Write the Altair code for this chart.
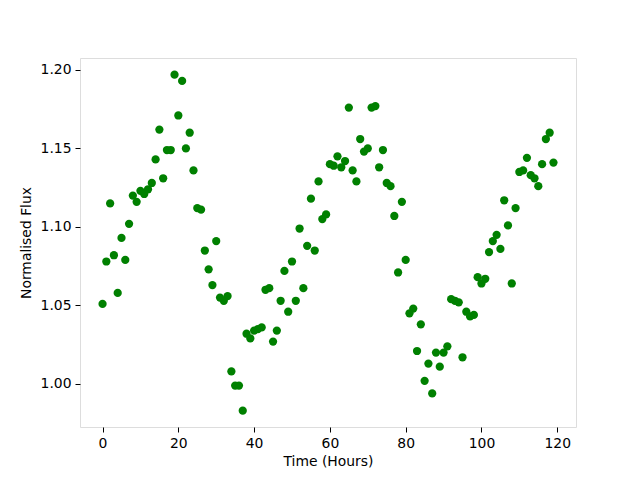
import altair as alt
import pandas as pd

hours = list(range(120))
flux = [
    1.051, 1.078, 1.115, 1.082, 1.058, 1.093, 1.079, 1.102, 1.120, 1.116,
    1.123, 1.121, 1.124, 1.128, 1.143, 1.162, 1.131, 1.149, 1.149, 1.197,
    1.171, 1.193, 1.150, 1.160, 1.136, 1.112, 1.111, 1.085, 1.073, 1.063,
    1.091, 1.055, 1.053, 1.056, 1.008, 0.999, 0.999, 0.983, 1.032, 1.029,
    1.034, 1.035, 1.036, 1.060, 1.061, 1.027, 1.034, 1.053, 1.072, 1.046,
    1.078, 1.053, 1.099, 1.061, 1.088, 1.118, 1.085, 1.129, 1.105, 1.108,
    1.140, 1.139, 1.145, 1.138, 1.142, 1.176, 1.136, 1.129, 1.156, 1.148,
    1.150, 1.176, 1.177, 1.138, 1.149, 1.128, 1.126, 1.107, 1.071, 1.116,
    1.079, 1.045, 1.048, 1.021, 1.038, 1.002, 1.013, 0.994, 1.020, 1.011,
    1.020, 1.024, 1.054, 1.053, 1.052, 1.017, 1.046, 1.043, 1.044, 1.068,
    1.064, 1.067, 1.084, 1.091, 1.095, 1.086, 1.117, 1.101, 1.064, 1.112,
    1.135, 1.136, 1.144, 1.133, 1.131, 1.126, 1.140, 1.156, 1.160, 1.141,
]
x_ticks = [0, 20, 40, 60, 80, 100, 120]
y_ticks = [1.00, 1.05, 1.10, 1.15, 1.20]

df = pd.DataFrame({"t": hours, "flux": flux})

font = "DejaVu Sans"
fs = 13.9

chart = (
    alt.Chart(df)
    .mark_circle(size=68, color="#008000", opacity=1)
    .encode(
        x=alt.X(
            "t:Q",
            scale=alt.Scale(domain=[-5.95, 124.95], nice=False, zero=False),
            axis=alt.Axis(
                values=x_ticks, title="Time (Hours)", format="d",
                grid=False, tickSize=5, labelPadding=4, titlePadding=5,
                domain=False, tickColor="black", labelColor="black",
                labelFont=font, titleFont=font, labelFontSize=fs, titleFontSize=fs,
                titleFontWeight="normal", titleColor="black", labelFlush=False,
            ),
        ),
        y=alt.Y(
            "flux:Q",
            scale=alt.Scale(domain=[0.9726, 1.2076], nice=False, zero=False),
            axis=alt.Axis(
                values=y_ticks, title="Normalised Flux", format=".2f",
                grid=False, tickSize=5, labelPadding=4, titlePadding=7,
                domain=False, tickColor="black", labelColor="black",
                labelFont=font, titleFont=font, labelFontSize=fs, titleFontSize=fs,
                titleFontWeight="normal", titleColor="black", labelFlush=False,
            ),
        ),
    )
    .properties(
        width=496,
        height=369,
        autosize=alt.AutoSizeParams(type="none"),
        padding={"left": 72, "top": 50, "right": 56, "bottom": 45},
    )
    .configure_view(stroke="black", strokeWidth=1.1)
    .configure(background="white")
)

chart.save("out.html", embed_options={"renderer": "svg", "actions": False})
